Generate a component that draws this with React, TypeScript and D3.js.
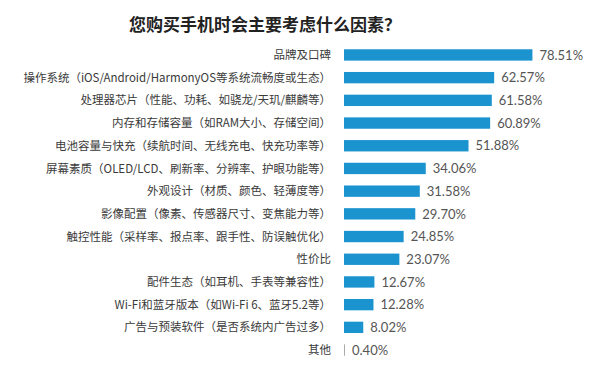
import React, { useEffect, useRef } from "react";
import * as d3 from "d3";

const title = "您购买手机时会主要考虑什么因素？";

const factors = [
  "品牌及口碑",
  "操作系统（iOS/Android/HarmonyOS等系统流畅度或生态）",
  "处理器芯片（性能、功耗、如骁龙/天玑/麒麟等）",
  "内存和存储容量（如RAM大小、存储空间）",
  "电池容量与快充（续航时间、无线充电、快充功率等）",
  "屏幕素质（OLED/LCD、刷新率、分辨率、护眼功能等）",
  "外观设计（材质、颜色、轻薄度等）",
  "影像配置（像素、传感器尺寸、变焦能力等）",
  "触控性能（采样率、报点率、跟手性、防误触优化）",
  "性价比",
  "配件生态（如耳机、手表等兼容性）",
  "Wi-Fi和蓝牙版本（如Wi-Fi 6、蓝牙5.2等）",
  "广告与预装软件（是否系统内广告过多）",
  "其他",
];

const shares = [78.51, 62.57, 61.58, 60.89, 51.88, 34.06, 31.58, 29.7, 24.85, 23.07, 12.67, 12.28, 8.02, 0.4];

const width = 600;
const height = 371;

const App = () => {
  const ref = useRef<SVGSVGElement>(null);

  useEffect(() => {
    document.body.style.margin = "0";
    const svg = d3.select(ref.current);
    svg.selectAll("*").remove();

    const data = factors.map((f, i) => ({ name: f, value: shares[i] }));

    const x = d3.scaleLinear().domain([0, 100]).range([344, 584]);
    const y = d3
      .scaleBand()
      .domain(factors)
      .range([43.6, 361.4])
      .paddingInner(0.5)
      .paddingOuter(0.25);

    const font = "'Noto Sans CJK SC', 'Noto Sans', sans-serif";

    svg
      .append("text")
      .attr("x", 265)
      .attr("y", 31)
      .attr("text-anchor", "middle")
      .attr("font-family", font)
      .attr("font-size", 17)
      .attr("font-weight", "bold")
      .attr("fill", "#222")
      .text(title);

    // bars
    svg
      .append("g")
      .attr("fill", "#1a93cf")
      .selectAll("rect")
      .data(data)
      .join("rect")
      .attr("x", x(0))
      .attr("y", (d) => y(d.name)!)
      .attr("width", (d) => Math.max(1, x(d.value) - x(0)))
      .attr("height", y.bandwidth())
      .attr("fill", (d) => (d.value < 1 ? "#aaa" : null));

    // category labels
    svg
      .append("g")
      .selectAll("text")
      .data(data)
      .join("text")
      .attr("x", 331)
      .attr("y", (d) => y(d.name)! + y.bandwidth() / 2)
      .attr("dy", "0.36em")
      .attr("text-anchor", "end")
      .attr("font-family", font)
      .attr("font-size", 11.5)
      .attr("fill", "#3a3a3a")
      .text((d) => d.name);

    // value labels
    svg
      .append("g")
      .selectAll("text")
      .data(data)
      .join("text")
      .attr("x", (d) => Math.max(x(d.value), x(0) + 1) + 7)
      .attr("y", (d) => y(d.name)! + y.bandwidth() / 2)
      .attr("dy", "0.36em")
      .attr("font-family", "Lato, 'Noto Sans', sans-serif")
      .attr("font-size", 13)
      .attr("fill", "#555")
      .text((d) => d.value.toFixed(2) + "%");
  }, []);

  return (
    <div>
      <svg ref={ref} width={width} height={height} style={{ display: "block", background: "#fff" }} />
    </div>
  );
};

export default App;
